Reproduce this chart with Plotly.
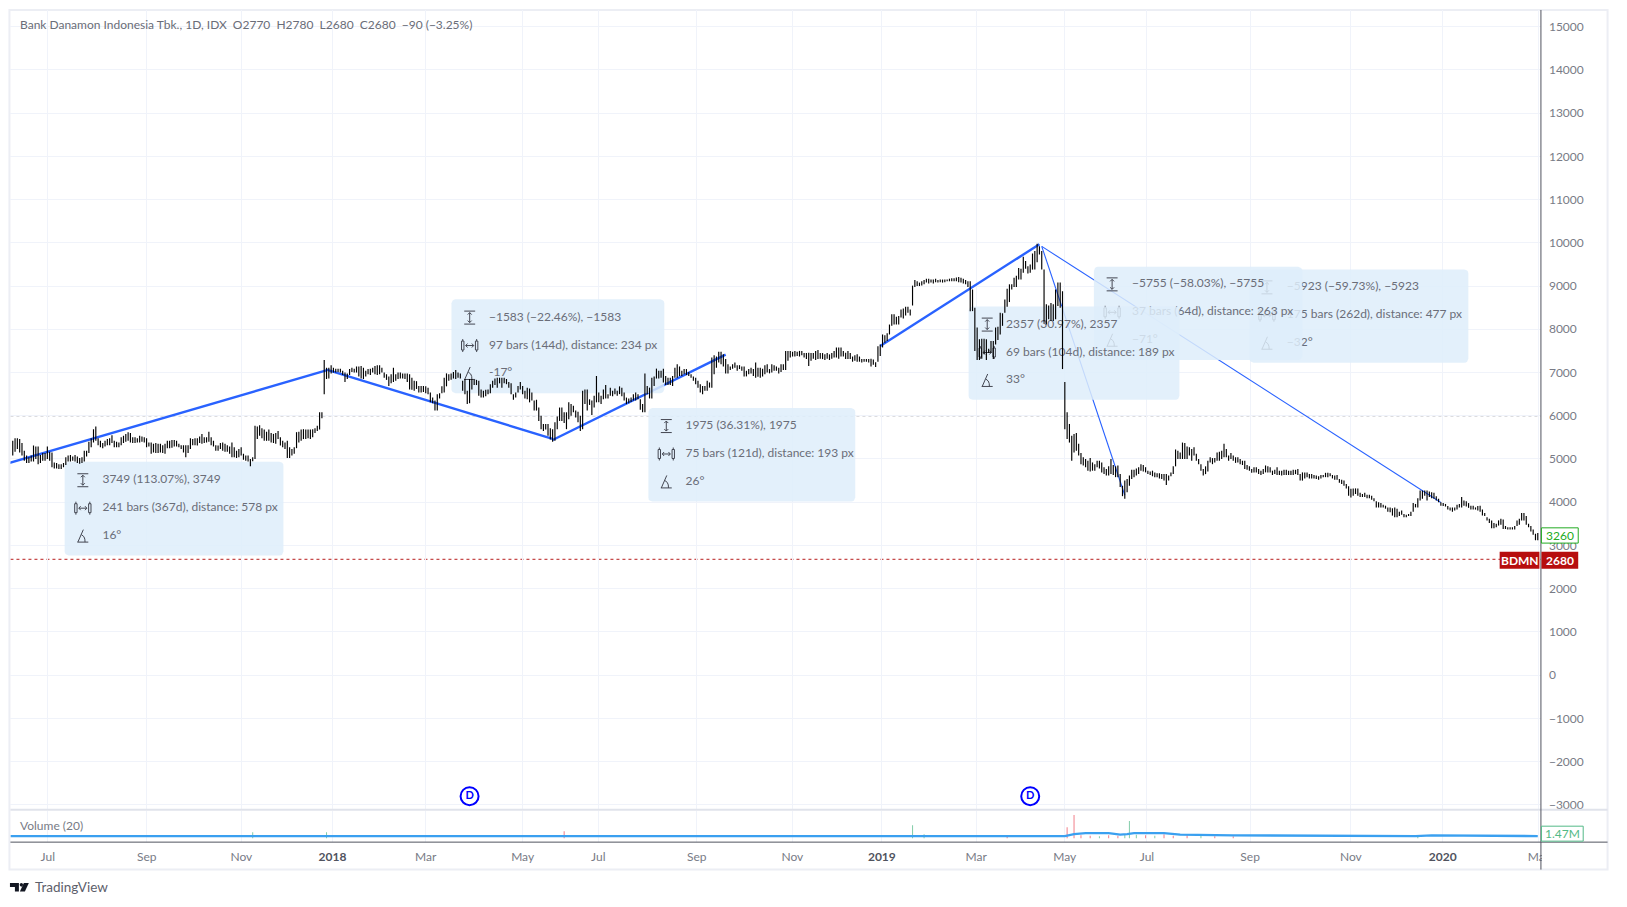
"""
Bank Danamon (BDMN) daily bars with trend lines and measure boxes, TradingView look.
Values read off the screenshot. x axis is bar number, like the TradingView time scale.
"""

import numpy as np
import plotly.graph_objects as go

W, H = 1627, 907
PANE_L, PANE_R = 10.5, 1549.5      # pixel edges of the panes
PANE_T, PRICE_B = 10.0, 811.5
VOL_T, VOL_B = 812.5, 844.0
OUTER_R, OUTER_B = 1616.5, 871.5
BAR_PX = 2.32                      # bar spacing
K_PX = 43.33                       # px per 1000 price
FONT = "Lato, Arial, sans-serif"
GREY = "#787b86"
DARK = "#50535e"
GRID = "#f0f3fa"
BLUE = "#2962ff"

# ── Data ──────────────────────────────────────────────────────────────────────
first_bar = 1
bar_high = [
    5420, 5480, 5480, 5460, 5370, 5190, 5080, 5040, 5080, 5310,
    5290, 5290, 5090, 5140, 5140, 5290, 5170, 5150, 4920, 4910,
    4880, 4880, 4910, 5040, 5080, 5090, 5060, 5090, 5060, 5020,
    5040, 5190, 5190, 5400, 5480, 5690, 5750, 5480, 5420, 5370,
    5420, 5460, 5480, 5550, 5420, 5400, 5380, 5500, 5540, 5580,
    5620, 5600, 5500, 5500, 5480, 5540, 5520, 5500, 5480, 5380,
    5380, 5350, 5370, 5350, 5350, 5320, 5350, 5420, 5420, 5440,
    5440, 5420, 5350, 5320, 5320, 5320, 5320, 5480, 5460, 5480,
    5480, 5520, 5580, 5500, 5500, 5630, 5500, 5420, 5320, 5310,
    5370, 5380, 5350, 5320, 5290, 5380, 5270, 5190, 5230, 5270,
    5120, 5080, 5080, 5000, 5040, 5770, 5750, 5780, 5710, 5680,
    5630, 5680, 5600, 5580, 5600, 5650, 5500, 5420, 5380, 5420,
    5270, 5230, 5270, 5620, 5630, 5680, 5690, 5680, 5680, 5680,
    5690, 5710, 5770, 6080, 6080, 7290, 7110, 7110, 7170, 7110,
    7090, 7090, 7090, 7040, 7000, 6980, 7080, 7110, 7090, 7140,
    7140, 7150, 7110, 7040, 7080, 7090, 7110, 7150, 7170, 7170,
    7110, 7000, 6960, 6910, 6960, 7110, 6960, 7000, 7000, 6980,
    6980, 6980, 6960, 6880, 6810, 6800,
    # from Mar 2018
    6690, 6690, 6690, 6680, 6650, 6540, 6420, 6350, 6500, 6520,
    6680, 6880, 6980, 6960, 6980, 7010, 7060, 7000, 6980, 6810,
    6850, 6580, 6850, 6850, 6830, 6830, 6810, 6610, 6580, 6600,
    6610, 6730, 6810, 6860, 6880, 6880, 6880, 6880, 6850, 6780,
    6750, 6500, 6540, 6690, 6780, 6690, 6580, 6650, 6630, 6540,
    6350, 6370, 6190, 6000, 5810, 5810, 5810, 5710, 5690, 5850,
    5980, 6190, 6190, 6080, 6080, 6310, 6270, 6230, 6120, 6090,
    6000, 6580, 6610, 6610, 6380, 6350, 6460, 6920, 6540, 6460,
    6610, 6710, 6500, 6650, 6580, 6630, 6580, 6680, 6650, 6540,
    6420, 6400, 6420, 6500, 6540, 6500, 6380, 6270, 6980, 6690,
    6650, 6880, 6910, 7090, 7040, 7040, 7090, 6920, 6880, 6880,
    6920, 7110, 7190, 7140, 7040, 7080, 7080, 7010, 6960, 6910,
    6880, 6810, 6730, 6690, 6690, 6810, 6770, 7350, 7400, 7370,
    7480, 7480, 7420, 7310, 7190, 7140, 7190, 7230, 7170, 7170,
    7140, 7140, 7040, 7080, 7110, 7080, 7230, 7110, 7110, 7090,
    7170, 7190, 7080, 7190, 7170, 7140, 7110, 7190, 7190, 7500,
    7500, 7500, 7480, 7500, 7480, 7500, 7500, 7450, 7450, 7460,
    7450, 7450, 7500, 7520, 7450, 7450, 7420, 7450, 7420, 7450,
    7500, 7580, 7580, 7580, 7500, 7460, 7500, 7450, 7370, 7400,
    7420, 7370, 7310, 7310, 7310, 7310, 7320, 7300, 7240,
    # from Jan 2019
    7610, 7650, 7880, 7860, 7910, 8110, 8350, 8350, 8290, 8310,
    8460, 8480, 8520, 8520, 8460, 9010, 9140, 9110, 9080, 9110,
    9140, 9170, 9170, 9150, 9150, 9170, 9140, 9150, 9150, 9150,
    9150, 9170, 9180, 9180, 9200, 9210, 9190, 9170, 9140, 9110,
    9110, 8920, 8500, 8040, 7770, 7780, 7780, 7770, 7550, 7730,
    7730, 8040, 8060, 8380, 8370, 8690, 8940, 9040, 9040, 9190,
    9240, 9420, 9400, 9680, 9580, 9460, 9500, 9750, 9810, 9980,
    9920, 9810, 9380, 8580, 8550, 8610, 8580, 8920, 9080, 9080,
    8880, 6780, 6080, 5810, 5540, 5580, 5600, 5350, 5140, 5040,
    5000, 4960, 5020, 4920, 4880, 4960, 4960, 4920, 4810, 4770,
    4830, 5000, 4860, 4830, 4850, 4650, 4380, 4500, 4540, 4620,
    4750, 4750, 4780, 4810, 4880, 4860, 4810, 4730, 4710, 4730,
    4690, 4670, 4670, 4650, 4650, 4650, 4620, 4690, 4830, 5220,
    5190, 5150, 5380, 5370, 5290, 5270, 5230, 5270, 5120, 5000,
    4880, 4770, 4830, 4960, 5040, 5020, 5020, 5150, 5170, 5190,
    5350, 5230, 5080, 5140, 5080, 5040, 5040, 5000, 4960, 4960,
    4860, 4830, 4770, 4810, 4810, 4770, 4730, 4770, 4850, 4830,
    4810, 4730, 4750, 4810, 4730, 4730, 4750, 4750, 4730,
    # from Nov 2019
    4730, 4750, 4750, 4770, 4650, 4690, 4690, 4690, 4650, 4650,
    4630, 4620, 4600, 4630, 4630, 4680, 4680, 4670, 4630, 4620,
    4630, 4540, 4520, 4500, 4420, 4370, 4310, 4320, 4320, 4320,
    4220, 4190, 4220, 4170, 4170, 4150, 4090, 4020, 4000, 3980,
    3940, 3920, 3880, 3880, 3860, 3880, 3850, 3780, 3810, 3730,
    3710, 3730, 3780, 3980, 3960, 4090, 4270, 4270, 4270, 4270,
    4250, 4230, 4220, 4140, 4080, 4000, 3980, 3960, 3910, 3880,
    3880, 3880, 3940, 3960, 4120, 4040, 4020, 3980, 3920, 3920,
    3880, 3910, 3920, 3830, 3750, 3650, 3620, 3580, 3520, 3500,
    3580, 3620, 3600, 3450, 3420, 3420, 3420, 3450, 3580, 3620,
    3750, 3750, 3680, 3500, 3450, 3370, 3270, 3290,
]
bar_low = [
    5080, 5170, 5230, 5150, 5080, 4960, 4910, 4910, 4940, 4940,
    5000, 4880, 4910, 4960, 4960, 5000, 4960, 4810, 4780, 4780,
    4770, 4770, 4810, 4860, 4940, 4940, 4960, 4940, 4910, 4890,
    4910, 4940, 5060, 5140, 5270, 5380, 5420, 5320, 5270, 5250,
    5290, 5320, 5320, 5370, 5270, 5270, 5270, 5320, 5370, 5400,
    5420, 5380, 5370, 5370, 5380, 5380, 5400, 5380, 5270, 5290,
    5120, 5150, 5140, 5140, 5150, 5140, 5120, 5250, 5250, 5260,
    5290, 5290, 5270, 5230, 5150, 5040, 5140, 5230, 5320, 5320,
    5310, 5370, 5350, 5370, 5380, 5400, 5320, 5290, 5190, 5190,
    5230, 5190, 5170, 5170, 5120, 5040, 5040, 5020, 5040, 5080,
    4980, 4960, 4940, 4830, 4950, 5000, 5460, 5540, 5480, 5420,
    5420, 5420, 5380, 5370, 5350, 5460, 5310, 5270, 5230, 5020,
    5020, 5080, 5120, 5250, 5380, 5420, 5460, 5460, 5480, 5460,
    5500, 5600, 5650, 5680, 5940, 6500, 6850, 6860, 6980, 7000,
    7000, 7010, 7000, 6940, 6780, 6850, 6940, 7010, 7000, 7000,
    6910, 6860, 6850, 6910, 6960, 6940, 7000, 6960, 6940, 6960,
    7000, 6880, 6830, 6690, 6750, 6780, 6810, 6850, 6860, 6860,
    6850, 6780, 6610, 6600, 6580, 6620,
    # from Mar 2018
    6540, 6540, 6550, 6520, 6500, 6310, 6290, 6120, 6120, 6400,
    6520, 6540, 6680, 6810, 6830, 6860, 6850, 6880, 6860, 6580,
    6500, 6270, 6290, 6610, 6710, 6710, 6460, 6420, 6420, 6450,
    6500, 6520, 6650, 6710, 6650, 6750, 6650, 6750, 6730, 6650,
    6500, 6370, 6420, 6540, 6610, 6500, 6400, 6380, 6310, 6350,
    6120, 6120, 5880, 5690, 5650, 5680, 5540, 5450, 5400, 5420,
    5690, 5880, 5880, 5830, 5690, 5920, 6000, 6080, 5960, 5850,
    5650, 5690, 6270, 6120, 6250, 6020, 6190, 6310, 6310, 6270,
    6380, 6400, 6400, 6460, 6450, 6500, 6460, 6500, 6450, 6350,
    6270, 6290, 6320, 6350, 6350, 6380, 6140, 6080, 6080, 6500,
    6400, 6400, 6690, 6860, 6860, 6880, 6770, 6710, 6710, 6710,
    6690, 6880, 6880, 6920, 6920, 6960, 6940, 6920, 6880, 6810,
    6730, 6650, 6540, 6500, 6580, 6580, 6650, 6650, 6960, 7110,
    7230, 7190, 7140, 6980, 6980, 7060, 7090, 7110, 7040, 7080,
    7040, 6910, 6910, 6960, 6980, 6920, 6880, 6900, 6880, 6910,
    6960, 7000, 6980, 7000, 7040, 7040, 6980, 7010, 7060, 7060,
    7270, 7350, 7370, 7370, 7380, 7370, 7400, 7350, 7310, 7150,
    7270, 7320, 7290, 7310, 7320, 7310, 7290, 7320, 7290, 7320,
    7350, 7350, 7320, 7370, 7370, 7310, 7310, 7310, 7250, 7270,
    7250, 7250, 7230, 7250, 7250, 7230, 7140, 7180, 7130,
    # from Jan 2019
    7250, 7380, 7580, 7690, 7730, 7880, 8080, 8110, 8110, 8110,
    8270, 8250, 8320, 8380, 8320, 8550, 8980, 9000, 9000, 9010,
    9040, 9080, 9060, 9080, 9060, 9090, 9080, 9090, 9080, 9090,
    9110, 9110, 9110, 9110, 9110, 9090, 9080, 9060, 9040, 8980,
    8420, 8420, 7500, 7290, 7290, 7320, 7420, 7290, 7450, 7460,
    7310, 7650, 7750, 7880, 8080, 8380, 8520, 8630, 8920, 8980,
    8980, 9150, 9150, 9310, 9400, 9290, 9310, 9380, 9380, 9550,
    9730, 9380, 8150, 8110, 8230, 8190, 8190, 8230, 8540, 8500,
    7080, 5690, 5460, 5380, 4960, 5150, 5190, 5080, 4880, 4850,
    4810, 4730, 4710, 4730, 4730, 4810, 4780, 4690, 4650, 4620,
    4620, 4650, 4630, 4580, 4580, 4350, 4140, 4080, 4230, 4380,
    4540, 4580, 4620, 4650, 4730, 4710, 4690, 4650, 4630, 4600,
    4580, 4580, 4550, 4540, 4500, 4400, 4500, 4600, 4650, 4830,
    5000, 5000, 5000, 5000, 5000, 5080, 4960, 5080, 4960, 4880,
    4730, 4620, 4650, 4710, 4920, 4880, 4920, 4960, 4960, 5000,
    5040, 5040, 4960, 5000, 4960, 4910, 4920, 4880, 4860, 4770,
    4750, 4730, 4680, 4690, 4690, 4650, 4630, 4650, 4690, 4690,
    4690, 4630, 4650, 4630, 4630, 4620, 4630, 4630, 4630,
    # from Nov 2019
    4630, 4630, 4650, 4630, 4500, 4500, 4550, 4580, 4550, 4550,
    4550, 4540, 4520, 4550, 4580, 4580, 4580, 4600, 4550, 4520,
    4520, 4450, 4420, 4380, 4320, 4150, 4110, 4150, 4190, 4150,
    4120, 4120, 4120, 4090, 4090, 4060, 4020, 3880, 3880, 3880,
    3880, 3850, 3780, 3770, 3690, 3650, 3650, 3680, 3710, 3650,
    3650, 3680, 3680, 3780, 3880, 3880, 4040, 4080, 4150, 4040,
    4120, 4090, 4080, 4040, 4000, 3920, 3910, 3900, 3830, 3810,
    3780, 3810, 3830, 3880, 3880, 3920, 3900, 3870, 3830, 3830,
    3830, 3810, 3780, 3690, 3680, 3580, 3520, 3400, 3400, 3420,
    3460, 3480, 3380, 3380, 3370, 3370, 3370, 3370, 3450, 3480,
    3580, 3580, 3480, 3420, 3320, 3250, 3120, 3120,
]

# trend lines: start bar, end bar, start price, end price
line_bar = [(-103, 138), (138, 235), (235, 310), (377, 446), (447, 483), (447, 620)]
line_price = [(3316, 7065), (7048, 5465), (5439, 7414), (7611, 9968), (9917, 4162), (9917, 3994)]
line_width = [2.4, 2.4, 2.4, 2.4, 1.1, 1.1]

last_price = 2680
prev_level = 6000
dividend_bar = [199, 442]
dividend_y = [-2800, -2800]

price_ticks = list(range(-3000, 15001, 1000))
time_ticks = [16.2, 59.1, 100.1, 139.6, 180, 222, 254.8, 297.5, 338.9, 377.7,
              418.6, 457, 492.6, 537.3, 581, 620.8, 662.3]
time_labels = ["Jul", "Sep", "Nov", "2018", "Mar", "May", "Jul", "Sep", "Nov", "2019",
               "Mar", "May", "Jul", "Sep", "Nov", "2020", "Mar"]

# volume in millions, only the bars that stand out of the average line
vol_bar = [105, 137, 240, 391, 396, 432, 458, 461, 464, 468, 472, 476, 480, 483, 485, 488,
           492, 496, 500, 504, 510, 516, 522, 530, 610]
vol_val = [24, 24, 28, 52, 16, 12, 44, 93, 12, 10, 8, 12, 10, 16, 69, 14,
           12, 10, 16, 10, 12, 10, 8, 8, 12]
vol_up = [1, 1, 0, 1, 1, 0, 0, 0, 0, 0, 1, 0, 0, 1, 1, 1,
          0, 1, 0, 0, 0, 1, 0, 0, 1]
ma_bar = [0, 40, 100, 130, 155, 200, 240, 280, 400, 457, 461, 466, 476, 481, 484, 487,
          500, 507, 530, 609, 616, 638, 662]
ma_val = [8, 8, 8, 10, 10, 8, 8, 9, 8, 8, 16, 20, 20, 14, 16, 20,
          20, 14, 11, 8, 11, 10, 8]

# measure boxes, drawn bottom to top: box pixels, icon x, text x, first row y, texts
boxes = [
    ((1256.5, 270, 1476.5, 363.5), 1274, 1294, 288,
     ["−5923 (−59.73%), −5923", "175 bars (262d), distance: 477 px", "−32°"]),
    ((1100, 267.3, 1309.5, 360.7), 1118.3, 1138.3, 285,
     ["−5755 (−58.03%), −5755", "37 bars (64d), distance: 263 px", "−71°"]),
    ((974, 307.3, 1186, 400.7), 992.7, 1011.7, 325.3,
     ["2357 (30.97%), 2357", "69 bars (104d), distance: 189 px", "33°"]),
    ((652, 409, 860, 502.7), 670, 689.3, 427,
     ["1975 (36.31%), 1975", "75 bars (121d), distance: 193 px", "26°"]),
    ((454, 300, 668, 394), 472.3, 491.7, 318.3,
     ["−1583 (−22.46%), −1583", "97 bars (144d), distance: 234 px", "-17°"]),
    ((65, 462.7, 285, 556.7), 83.3, 103, 481.3,
     ["3749 (113.07%), 3749", "241 bars (367d), distance: 578 px", "16°"]),
]


# ── Pixel helpers ─────────────────────────────────────────────────────────────
def dx(px):
    return (px - PANE_L) / BAR_PX

def dy(py):
    return 5000 + (460 - py) / K_PX * 1000

def px_(x):
    return x / W

def py_(y):
    return 1 - y / H

def rounded(x0, y0, x1, y1, r=4):
    xs, ys = [], []
    for cx, cy, a0 in [(x1 - r, y0 + r, -90), (x1 - r, y1 - r, 0), (x0 + r, y1 - r, 90), (x0 + r, y0 + r, 180)]:
        t = np.radians(np.linspace(a0, a0 + 90, 5))
        xs += list(cx + r * np.cos(t))
        ys += list(cy + r * np.sin(t))
    return xs + xs[:1], ys + ys[:1]

def icons(cx, cy):
    """the three small glyphs of a measure box, one per row, in pixels"""
    segs = []
    # price range
    y = cy
    segs += [[(cx - 5.5, y - 6.5), (cx + 5.5, y - 6.5)], [(cx - 5.5, y + 6.5), (cx + 5.5, y + 6.5)],
             [(cx, y - 5), (cx, y + 5)], [(cx - 2, y - 3), (cx, y - 5), (cx + 2, y - 3)],
             [(cx - 2, y + 3), (cx, y + 5), (cx + 2, y + 3)]]
    # bars range
    y = cy + 28
    for s in (-1, 1):
        c = cx + s * 7
        segs += [[(c - 1.2, y - 4.5), (c + 1.2, y - 4.5), (c + 1.2, y + 4.5), (c - 1.2, y + 4.5), (c - 1.2, y - 4.5)],
                 [(c, y - 6.5), (c, y - 4.5)], [(c, y + 4.5), (c, y + 6.5)]]
    segs += [[(cx - 4, y), (cx + 4, y)], [(cx - 2.2, y - 2), (cx - 4, y), (cx - 2.2, y + 2)],
             [(cx + 2.2, y - 2), (cx + 4, y), (cx + 2.2, y + 2)]]
    # angle
    y = cy + 56
    segs += [[(cx - 5.5, y + 6), (cx + 5.5, y + 6)], [(cx - 5, y + 6), (cx + 0.5, y - 6.5)],
             [(cx - 1.5, y - 1.5), (cx + 1, y + 0.5), (cx + 2, y + 3), (cx + 2.2, y + 6)]]
    xs, ys = [], []
    for seg in segs:
        xs += [dx(p[0]) for p in seg] + [None]
        ys += [dy(p[1]) for p in seg] + [None]
    return xs, ys


# ── Traces ────────────────────────────────────────────────────────────────────
fig = go.Figure()

for (b0, b1), (p0, p1), w in zip(line_bar, line_price, line_width):
    fig.add_trace(go.Scatter(x=[b0, b1], y=[p0, p1], mode="lines", line=dict(color=BLUE, width=w),
                             hoverinfo="skip"))

for (x0, y0, x1, y1), ix, tx, ty, texts in boxes:
    xs, ys = rounded(x0, y0, x1, y1)
    fig.add_trace(go.Scatter(x=[dx(v) for v in xs], y=[dy(v) for v in ys], mode="lines", fill="toself",
                             fillcolor="rgba(222,237,250,0.85)", line=dict(width=0), hoverinfo="skip"))
    gx, gy = icons(ix, ty)
    fig.add_trace(go.Scatter(x=gx, y=gy, mode="lines", line=dict(color="#434651", width=1), hoverinfo="skip"))
    fig.add_trace(go.Scatter(x=[dx(tx)] * 3, y=[dy(ty + 28 * k) for k in range(3)], mode="text", text=texts,
                             textposition="middle right", hoverinfo="skip",
                             textfont=dict(family=FONT, size=12, color="#6a6d78")))

bx, by = [], []
for i, (hi, lo) in enumerate(zip(bar_high, bar_low)):
    bx += [first_bar + i, first_bar + i, None]
    by += [lo, hi, None]
fig.add_trace(go.Scatter(x=bx, y=by, mode="lines", line=dict(color="#000000", width=1.15), hoverinfo="skip"))

fig.add_trace(go.Scatter(x=dividend_bar, y=dividend_y, mode="markers+text", text=["<b>D</b>"] * 2,
                         textposition="middle center", textfont=dict(family=FONT, size=11, color="#0000ff"),
                         marker=dict(symbol="circle-open", size=18, color="#0000ff", line=dict(width=2)),
                         hoverinfo="skip"))

vol_colors = ["rgba(83,185,135,0.7)" if u else "rgba(235,77,92,0.7)" for u in vol_up]
fig.add_trace(go.Bar(x=vol_bar, y=vol_val, marker_color=vol_colors, marker_line_width=0, width=0.45,
                     xaxis="x2", yaxis="y2", hoverinfo="skip"))
fig.add_trace(go.Scatter(x=ma_bar, y=ma_val, mode="lines", line=dict(color="#3aa0f0", width=2.4),
                         xaxis="x2", yaxis="y2", hoverinfo="skip"))

# ── Shapes ────────────────────────────────────────────────────────────────────
def rect(x0, y0, x1, y1, fill="rgba(0,0,0,0)", line=None, lw=1, layer="above"):
    return dict(type="rect", xref="paper", yref="paper", x0=px_(x0), x1=px_(x1), y0=py_(y0), y1=py_(y1),
                fillcolor=fill, line=dict(color=line or fill, width=lw if line else 0), layer=layer)

def seg(x0, y0, x1, y1, color, lw=1, layer="above"):
    return dict(type="line", xref="paper", yref="paper", x0=px_(x0), x1=px_(x1), y0=py_(y0), y1=py_(y1),
                line=dict(color=color, width=lw), layer=layer)

def poly(points, color):
    d = "M" + " L".join(f"{px_(a):.5f},{py_(b):.5f}" for a, b in points) + " Z"
    return dict(type="path", xref="paper", yref="paper", path=d, fillcolor=color, line=dict(width=0), layer="above")

shapes = [
    rect(9.5, 10, OUTER_R, OUTER_B, line="#eceef4", lw=2, layer="below"),
    dict(type="line", x0=0, x1=dx(PANE_R), y0=prev_level, y1=prev_level, line=dict(color="#6a6d78", width=1, dash="dot"),
         layer="below"),
    dict(type="line", x0=0, x1=dx(PANE_R), y0=last_price, y1=last_price, line=dict(color="#b71c1c", width=1, dash="dot"),
         layer="below"),
    seg(PANE_L, 811.5, OUTER_R, 811.5, "#e0e3eb", 2),
    rect(1550.5, 846, 1575, 870, fill="#ffffff"),      # cuts the last time label at the price axis
    seg(PANE_L, VOL_B, OUTER_R, VOL_B, DARK, 1),
    seg(PANE_R, PANE_T, PANE_R, OUTER_B, DARK, 1),
    rect(1550, 529, 1587, 544.3, fill="#ffffff", line="#22ab22", lw=1),
    rect(1550, 553, 1587, 570, fill="#b70e0e"),
    rect(1508, 553, 1548, 570, fill="#b70e0e"),
    rect(1550, 828, 1592, 843, fill="#ffffff", line="#53b987", lw=1),
    poly([(10, 885), (19, 885), (19, 893.5), (15, 893.5), (15, 889), (10, 889)], "#131722"),
    poly([(24, 885), (29, 885), (25, 893.5), (20, 893.5)], "#131722"),
]
shapes.append(dict(type="circle", xref="paper", yref="paper", x0=px_(19.8), x1=px_(23.2), y0=py_(888.6), y1=py_(885),
                   fillcolor="#131722", line=dict(width=0), layer="above"))

# ── Texts ─────────────────────────────────────────────────────────────────────
def label(x, y, text, color=GREY, size=12, anchor="left"):
    return dict(xref="paper", yref="paper", x=px_(x), y=py_(y), text=text, showarrow=False, xanchor=anchor,
                yanchor="middle", xshift=0, font=dict(family=FONT, size=size, color=color))

annotations = [
    label(18, 25, "Bank Danamon Indonesia Tbk., 1D, IDX&#160;&#160;O2770&#160;&#160;H2780&#160;&#160;L2680&#160;&#160;C2680&#160;&#160;−90 (−3.25%)", color="#6a6d78"),
    label(18, 827, "Volume (20)"),
    label(1568.5, 536.7, "3260", color="#22ab22", anchor="center"),
    label(1568.5, 561.5, "<b>2680</b>", color="#ffffff", anchor="center"),
    label(1528, 561.5, "<b>BDMN</b>", color="#ffffff", anchor="center"),
    label(1571, 835.5, "1.47M", color="#53b987", anchor="center"),
    label(33.5, 889, "TradingView", color="#5d606b", size=13.5),
]

tick_text = [f"<b>{t}</b>" if t.isdigit() else t for t in time_labels]
tick_text = [f'<span style="color:{DARK}">{t}</span>' if "<b>" in t else t for t in tick_text]
x_range = [0, dx(PANE_R)]

fig.update_layout(
    width=W, height=H, margin=dict(l=0, r=0, t=0, b=0), autosize=False,
    paper_bgcolor="#ffffff", plot_bgcolor="#ffffff", showlegend=False, barmode="overlay",
    font=dict(family=FONT, size=12, color=GREY),
    shapes=shapes, annotations=annotations,
    xaxis=dict(domain=[px_(PANE_L), px_(PANE_R)], range=x_range, anchor="y", tickvals=time_ticks, showticklabels=False,
               showgrid=True, gridcolor=GRID, zeroline=False, ticks=""),
    yaxis=dict(domain=[py_(PRICE_B), py_(PANE_T)], range=[dy(PRICE_B), dy(PANE_T)], anchor="x", side="right",
               tickvals=price_ticks, ticktext=[f"{v}".replace("-", "−") for v in price_ticks],
               showgrid=True, gridcolor=GRID, zeroline=False, ticks="", ticklabelstandoff=7,
               tickfont=dict(family=FONT, size=12, color=GREY)),
    xaxis2=dict(domain=[px_(PANE_L), px_(PANE_R)], range=x_range, anchor="y2", tickvals=time_ticks, ticktext=tick_text,
                showgrid=True, gridcolor=GRID, zeroline=False, ticks="", ticklabelstandoff=6,
                tickangle=0, tickfont=dict(family=FONT, size=12, color=GREY)),
    yaxis2=dict(domain=[py_(VOL_B), py_(VOL_T)], range=[-16, 110], anchor="x2", side="right",
                showgrid=False, zeroline=False, showticklabels=False, ticks=""),
)

print(len(bar_high), len(bar_low))
fig.write_html("out.html", config={"displayModeBar": False},
               post_script="document.body.style.margin='0';document.body.style.overflow='hidden';")
